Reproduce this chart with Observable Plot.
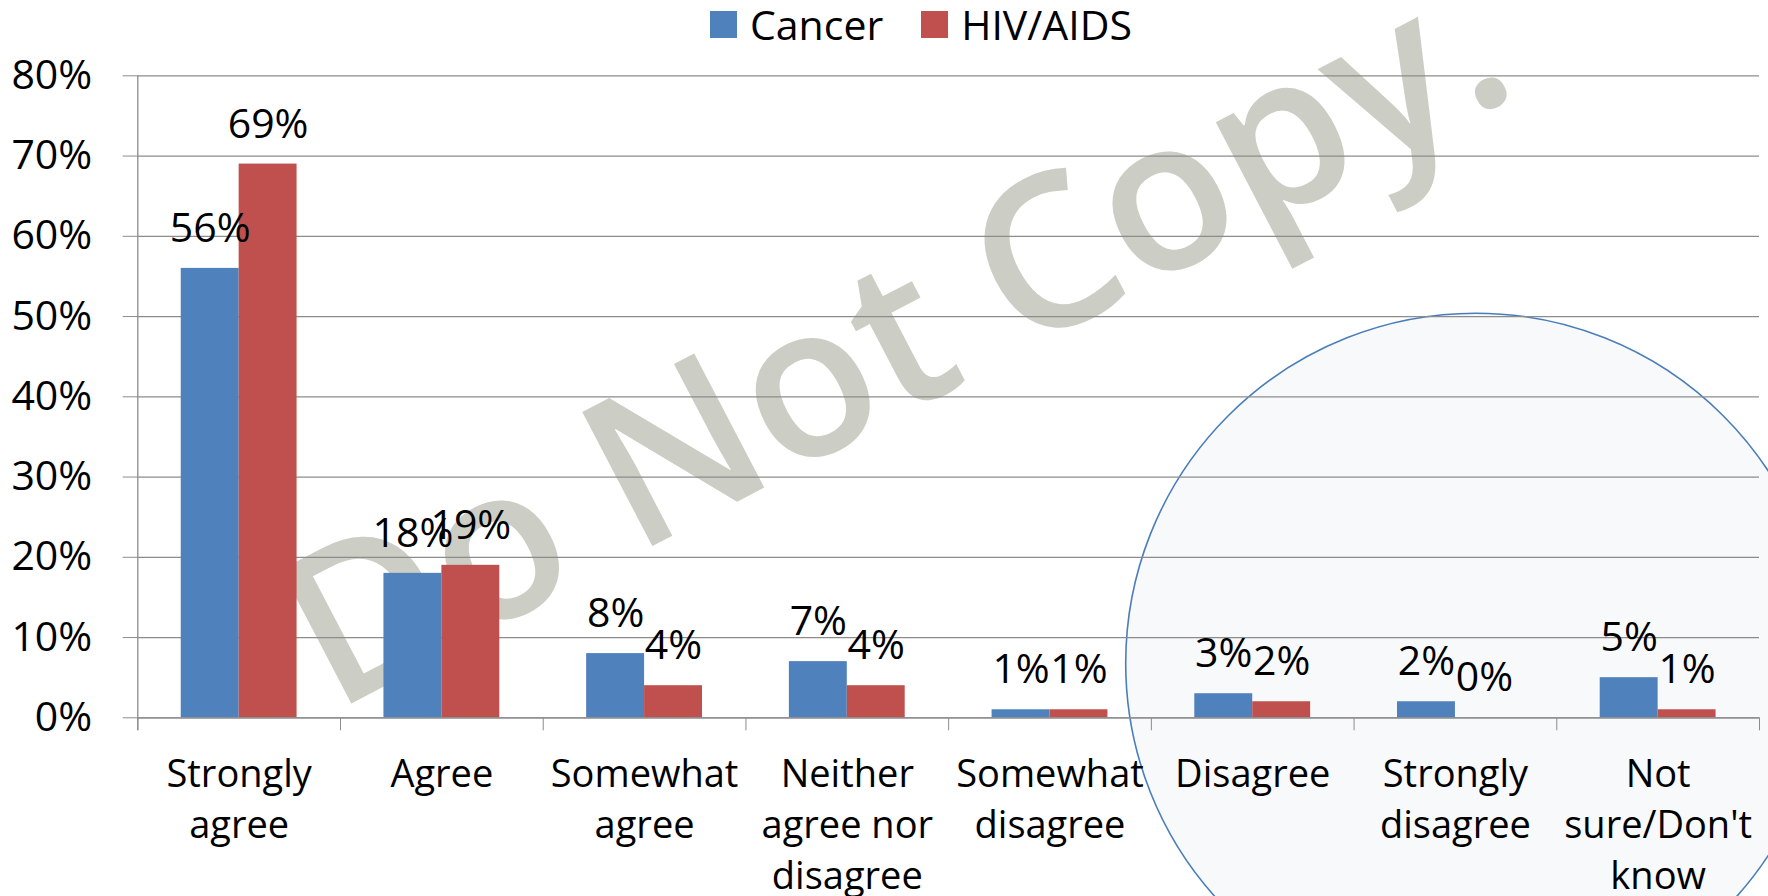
<!DOCTYPE html>
<html>
<head>
<meta charset="utf-8">
<script src="https://cdn.jsdelivr.net/npm/d3@7"></script>
<script src="https://cdn.jsdelivr.net/npm/@observablehq/plot@0.6"></script>
<style>
  html, body { margin: 0; padding: 0; background: #ffffff; overflow: hidden; }
  #legend {
    height: 60px; box-sizing: border-box; padding-left: 710px;
    display: flex; align-items: flex-start;
    font-family: "Open Sans", sans-serif; font-size: 41px; color: #000;
    position: relative; z-index: 1;
  }
  #legend .row { display: flex; align-items: center; height: 49px; }
  #legend .sw { width: 27px; height: 27px; margin-right: 13px; }
  #legend .lb { margin-right: 38px; line-height: 41px; }
  #chart svg { overflow: visible; }
  g[aria-label="watermark"] { filter: drop-shadow(4px 4px 3px rgba(95, 95, 85, 0.5)); }
</style>
</head>
<body>
<div id="legend"><div class="row"></div></div>
<div id="chart"></div>
<script>
// ---- data ----
const categories = ["Strongly agree", "Agree", "Somewhat agree", "Neither agree nor disagree",
  "Somewhat disagree", "Disagree", "Strongly disagree", "Not sure/Don't know"];
const tickLabels = ["Strongly\nagree", "Agree", "Somewhat\nagree", "Neither\nagree nor\ndisagree",
  "Somewhat\ndisagree", "Disagree", "Strongly\ndisagree", "Not\nsure/Don't\nknow"];
const series = ["Cancer", "HIV/AIDS"];
const cancer = [56, 18, 8, 7, 1, 3, 2, 5];
const hivAids = [69, 19, 4, 4, 1, 2, 0, 1];
const yTicks = [0, 10, 20, 30, 40, 50, 60, 70, 80];
const seriesColors = ["#4f81bd", "#c0504d"];
const watermark = "Do Not Copy.";

// ---- build table ----
const seriesValues = [cancer, hivAids];
const rows = [];
categories.forEach((c, i) => series.forEach((s, j) => rows.push({i, j, category: c, series: s, value: seriesValues[j][i]})));

// Excel-style clustered bars, gap width 150%
const gapWidth = 1.5;
const barFrac = 1 / (series.length + gapWidth);
const x1Of = d => d.i + 0.5 - (series.length / 2) * barFrac + d.j * barFrac;

// annotation circle (in data units) around the disagree categories
const circle = [{x: 6.6, y: 6.8}];

// legend
const row = document.querySelector("#legend .row");
series.forEach((s, j) => {
  const sw = document.createElement("span"); sw.className = "sw"; sw.style.background = seriesColors[j];
  const lb = document.createElement("span"); lb.className = "lb"; lb.textContent = s;
  row.appendChild(sw); row.appendChild(lb);
});

const gray = "#8c8c8c";
const fs = 41;

const chart = Plot.plot({
  width: 1768,
  height: 836,
  marginTop: 15.3,
  marginBottom: 178.7,
  marginLeft: 137.3,
  marginRight: 9,
  style: {fontFamily: "Open Sans, sans-serif", fontSize: "41px", color: "#000", background: "transparent", overflow: "visible"},
  x: {type: "linear", domain: [0, categories.length]},
  y: {domain: [0, 80]},
  color: {domain: series, range: seriesColors},
  marks: [
    Plot.text([watermark], {text: d => d, frameAnchor: "middle", dx: -52, dy: -55, rotate: -27.6,
      fontSize: 212, fontWeight: 600, fill: "#cccdc4", ariaLabel: "watermark"}),
    Plot.dot(circle, {x: "x", y: "y", r: 350, fill: "#f8f9fb", stroke: "#4a7ebb", strokeWidth: 1.6}),
    Plot.gridY(yTicks, {stroke: gray, strokeOpacity: 1, strokeWidth: 1.3}),
    Plot.rect(rows, {x1: x1Of, x2: d => x1Of(d) + barFrac, y1: 0, y2: "value", fill: "series"}),
    Plot.text(rows, {x: d => x1Of(d) + barFrac / 2, y: "value", text: d => `${d.value}%`, dy: -39.5, fontSize: fs, fill: "#000"}),
    Plot.ruleY([0], {stroke: gray, strokeWidth: 1.3}),
    Plot.ruleX([0], {stroke: gray, strokeWidth: 1.3, insetBottom: -13}),
    Plot.axisY({ticks: yTicks, tickFormat: d => `${d}%`, tickSize: 14.6, tickPadding: 31, stroke: gray, fill: "#000", fontSize: fs, label: null}),
    Plot.axisX({ticks: d3.range(0, categories.length + 1), tickFormat: () => "", tickSize: 13, stroke: gray, label: null}),
    Plot.axisX({ticks: categories.map((c, i) => i + 0.5), tickFormat: d => tickLabels[Math.floor(d)], tickSize: 0,
      tickPadding: 32.6, lineHeight: 1.35, fontSize: 38, fill: "#000", label: null})
  ]
});
document.getElementById("chart").appendChild(chart);
</script>
</body>
</html>
